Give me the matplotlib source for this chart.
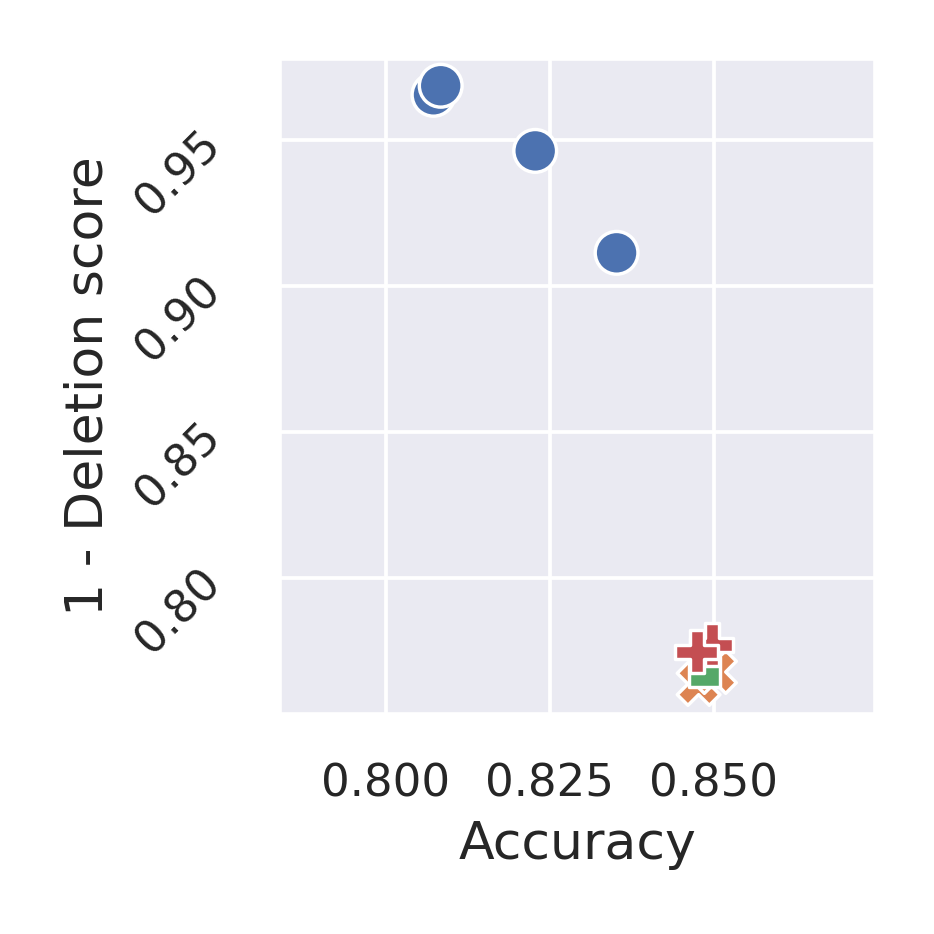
import matplotlib
matplotlib.use("Agg")
import matplotlib.pyplot as plt
import seaborn as sns
import pandas as pd

# values
methods = ["A", "A", "A", "A", "B", "B", "C", "D", "D"]
accuracy = [0.8073, 0.8084, 0.8228, 0.8352, 0.8477, 0.8502, 0.8486, 0.8497, 0.8474]
deletion = [0.9654, 0.9685, 0.9462, 0.9113, 0.7637, 0.7678, 0.7678, 0.7771, 0.7747]

x_ticks = [0.800, 0.825, 0.850]
y_ticks = [0.80, 0.85, 0.90, 0.95]

sns.set_theme(style="darkgrid", context="notebook")
plt.rcParams["font.family"] = ["DejaVu Sans"]
plt.rcParams["xtick.labelsize"] = 12
plt.rcParams["ytick.labelsize"] = 12
plt.rcParams["axes.labelsize"] = 13.9
plt.rcParams["xtick.major.pad"] = 6.8
plt.rcParams["ytick.major.pad"] = 7.3

df = pd.DataFrame({"method": methods, "Accuracy": accuracy, "1 - Deletion score": deletion})

fig = plt.figure(figsize=(934 / 270, 934 / 270), dpi=270)
ax = fig.add_axes([0.2990, 0.2355, 0.6380, 0.7024])

sns.scatterplot(data=df, x="Accuracy", y="1 - Deletion score", hue="method",
                style="method", s=130, edgecolor="white", legend=False, ax=ax)

ax.set_xlim(0.7838, 0.8746)
ax.set_ylim(0.7534, 0.978)
ax.set_xticks(x_ticks)
ax.set_yticks(y_ticks)
ax.set_xticklabels([f"{t:.3f}" for t in x_ticks])
ax.set_yticklabels([f"{t:.2f}" for t in y_ticks], rotation=45)

fig.savefig("out.png", dpi=270)
